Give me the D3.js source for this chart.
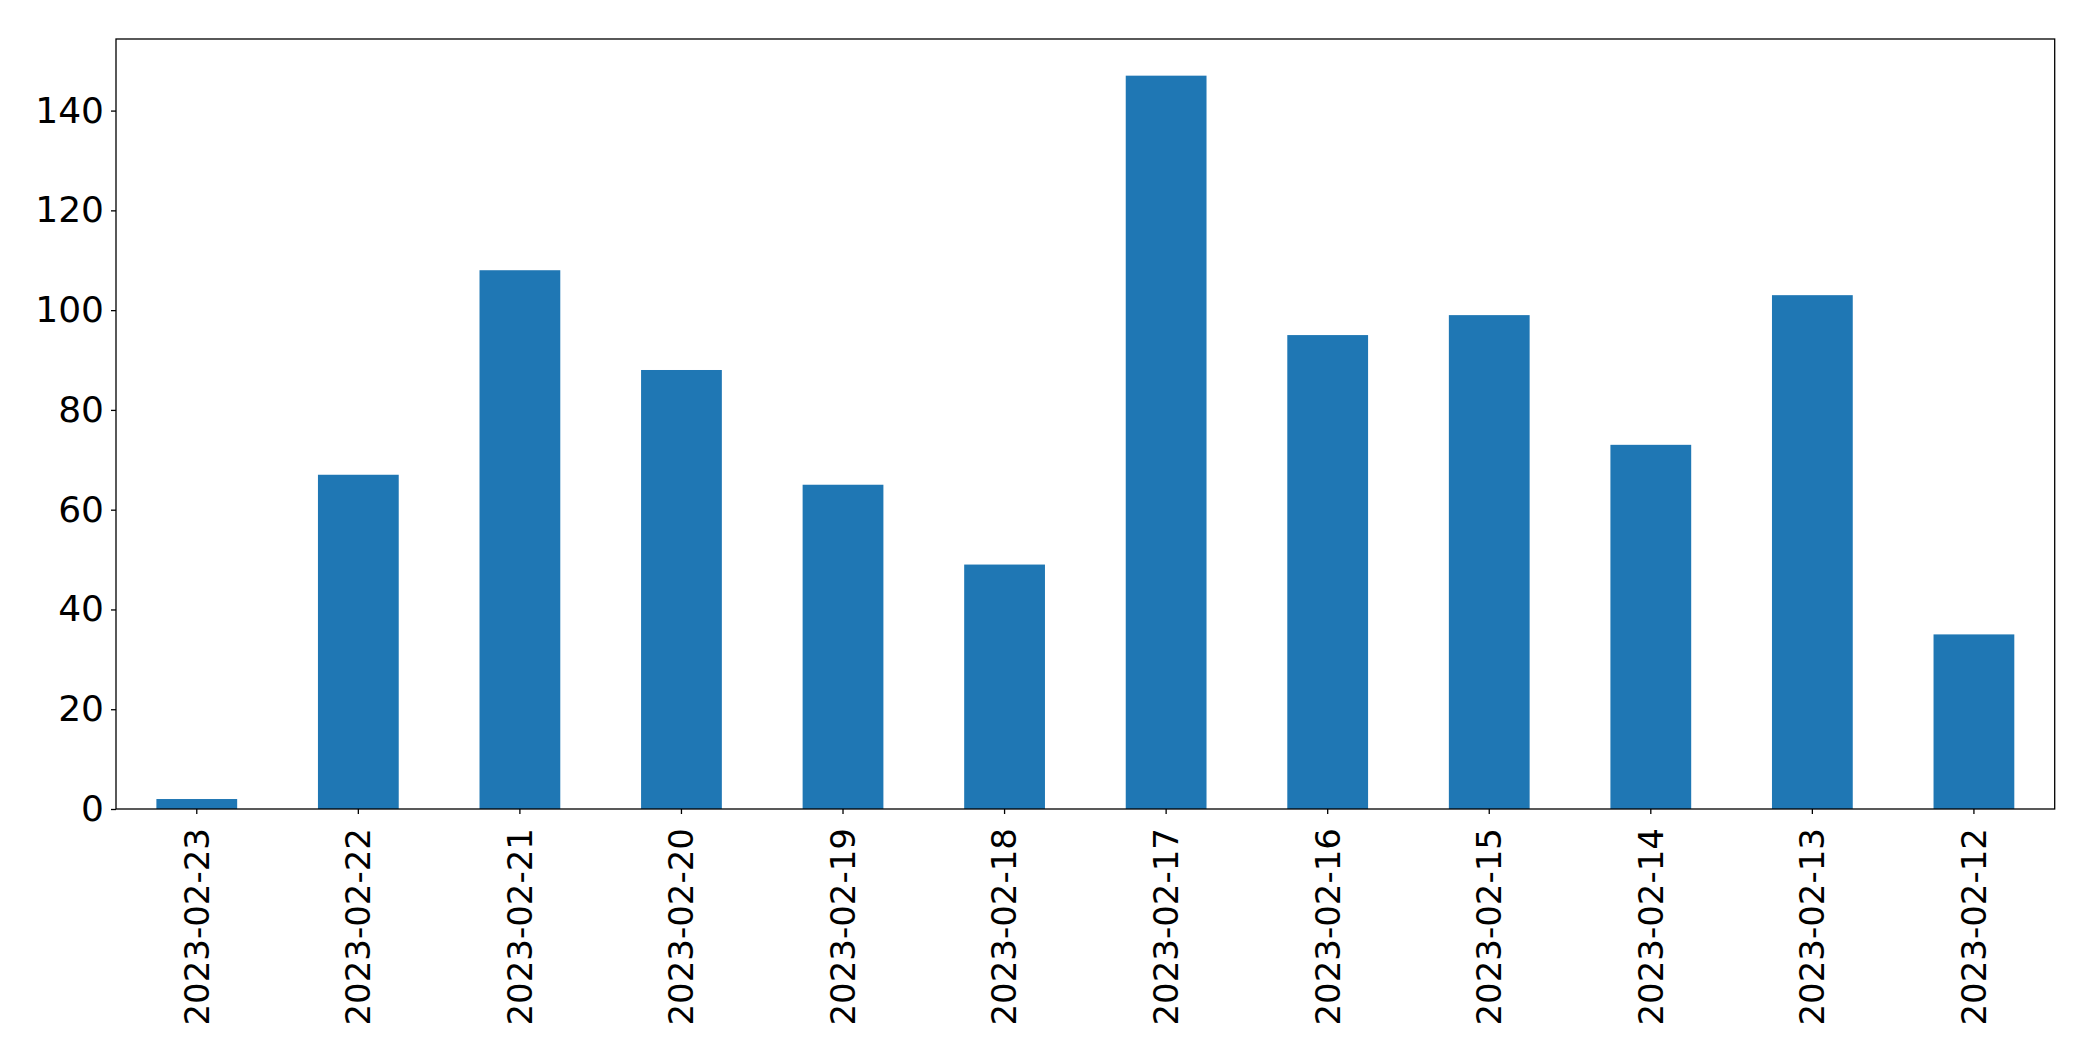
<!DOCTYPE html>
<html><head><meta charset="utf-8">
<script src="https://cdn.jsdelivr.net/npm/d3@7"></script>
<style>body{margin:0;background:#fff}svg{display:block}</style>
</head><body>
<script>
const categories = ["2023-02-23","2023-02-22","2023-02-21","2023-02-20","2023-02-19","2023-02-18","2023-02-17","2023-02-16","2023-02-15","2023-02-14","2023-02-13","2023-02-12"];
const values = [2, 67, 108, 88, 65, 49, 147, 95, 99, 73, 103, 35];
const yTicks = [0, 20, 40, 60, 80, 100, 120, 140];

const W = 2093, H = 1061;
const m = {left: 116, top: 39, right: 2093 - 2054.7, bottom: 1061 - 809};
const iw = W - m.left - m.right, ih = H - m.top - m.bottom;

const svg = d3.select("body").append("svg").attr("width", W).attr("height", H);
const g = svg.append("g").attr("transform", `translate(${m.left},${m.top})`);

const x = d3.scaleBand().domain(categories).range([0, iw]).paddingInner(0.5).paddingOuter(0.25);
const y = d3.scaleLinear().domain([0, d3.max(values) * 1.05]).range([ih, 0]);

g.selectAll("rect.bar").data(values).join("rect")
  .attr("class", "bar")
  .attr("x", (d, i) => x(categories[i]))
  .attr("width", x.bandwidth())
  .attr("y", d => y(d))
  .attr("height", d => y(0) - y(d))
  .attr("fill", "#1f77b4");

const font = "'DejaVu Sans', sans-serif";
const yAxis = g.append("g").call(d3.axisLeft(y).tickValues(yTicks).tickSize(5).tickPadding(7).tickFormat(d3.format("d")));
yAxis.select(".domain").remove();
yAxis.selectAll("text").attr("font-family", font).attr("font-size", 36).attr("fill", "#000");
yAxis.selectAll("line").attr("stroke", "#000").attr("stroke-width", 1.3);

const xAxis = g.append("g").attr("transform", `translate(0,${ih})`).call(d3.axisBottom(x).tickSize(5).tickPadding(0));
xAxis.select(".domain").remove();
xAxis.selectAll("line").attr("stroke", "#000").attr("stroke-width", 1.3);
xAxis.selectAll("text")
  .attr("font-family", font).attr("font-size", 34).attr("fill", "#000")
  .attr("transform", "translate(0,19) rotate(-90)")
  .attr("text-anchor", "end").attr("x", 0).attr("y", 0).attr("dy", "0.35em");

g.append("rect").attr("x", 0).attr("y", 0).attr("width", iw).attr("height", ih)
  .attr("fill", "none").attr("stroke", "#000").attr("stroke-width", 1.3);
</script>
</body></html>
